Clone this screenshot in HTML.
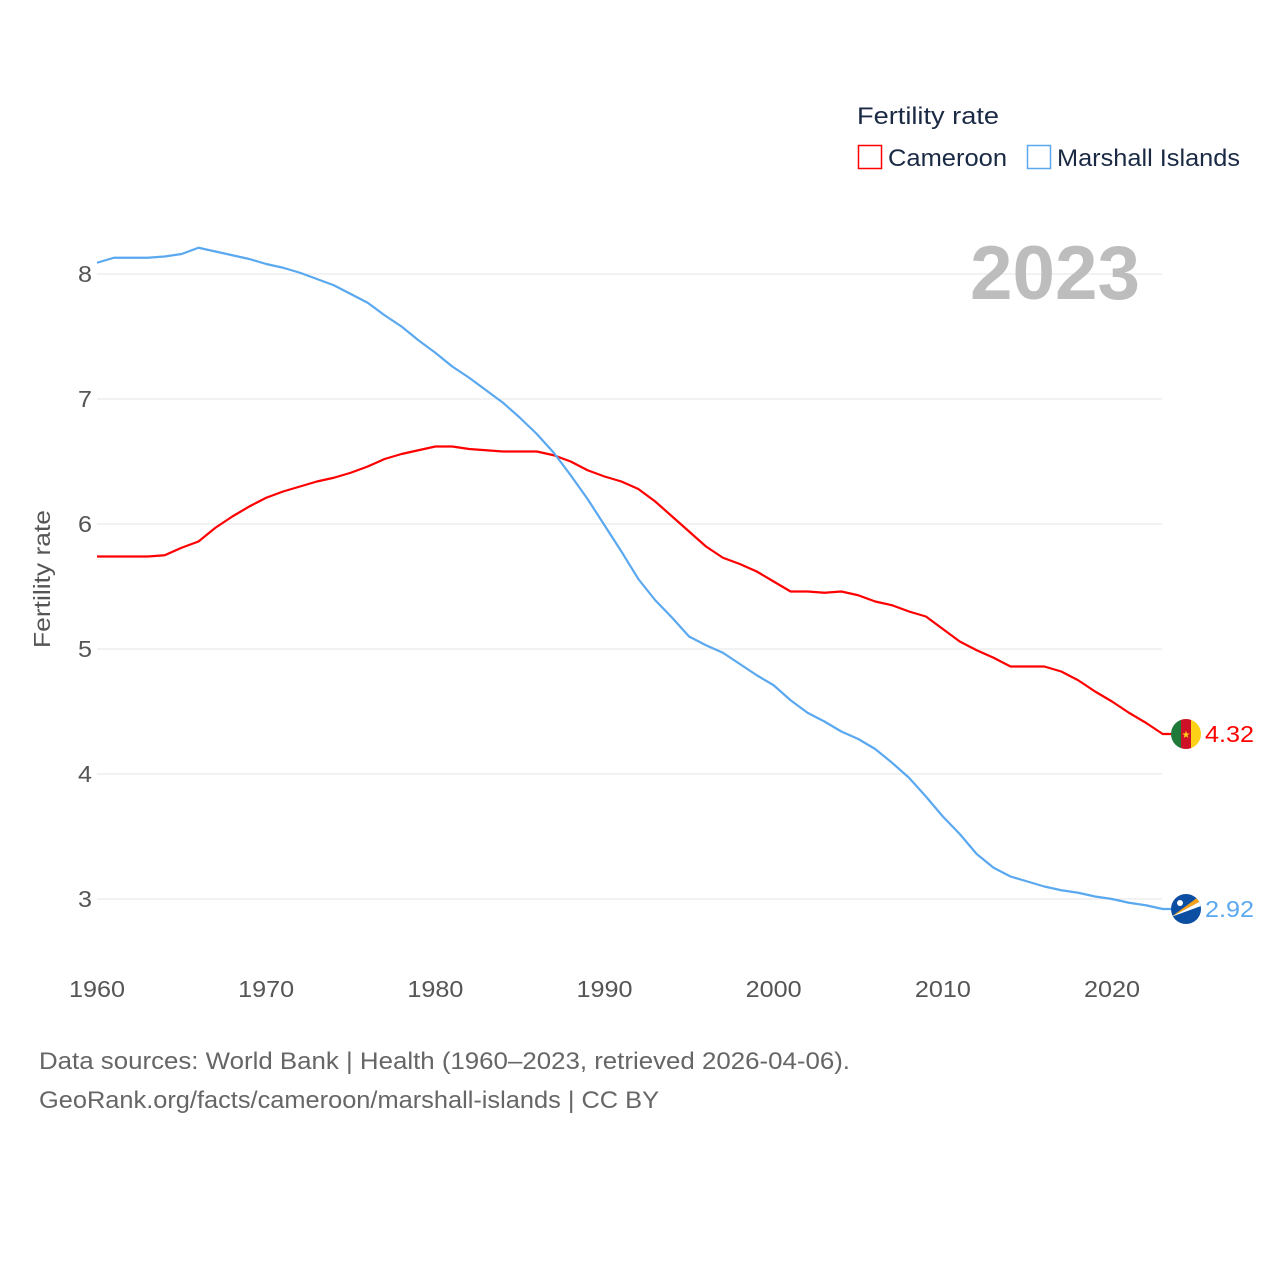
<!DOCTYPE html>
<html><head><meta charset="utf-8">
<style>
html,body{margin:0;padding:0;background:#fff;}
svg{display:block;font-family:"Liberation Sans",sans-serif;}
</style></head>
<body>
<svg id="chart" width="1280" height="1280" viewBox="0 0 1280 1280"></svg>
<script>
const years = [];
for (let y = 1960; y <= 2023; y++) years.push(y);
const cameroon = [5.74,5.74,5.74,5.74,5.75,5.81,5.86,5.97,6.06,6.14,6.21,6.26,6.30,6.34,6.37,6.41,6.46,6.52,6.56,6.59,6.62,6.62,6.60,6.59,6.58,6.58,6.58,6.55,6.50,6.43,6.38,6.34,6.28,6.18,6.06,5.94,5.82,5.73,5.68,5.62,5.54,5.46,5.46,5.45,5.46,5.43,5.38,5.35,5.30,5.26,5.16,5.06,4.99,4.93,4.86,4.86,4.86,4.82,4.75,4.66,4.58,4.49,4.41,4.32];
const marshall = [8.09,8.13,8.13,8.13,8.14,8.16,8.21,8.18,8.15,8.12,8.08,8.05,8.01,7.96,7.91,7.84,7.77,7.67,7.58,7.47,7.37,7.26,7.17,7.07,6.97,6.85,6.72,6.57,6.39,6.20,5.99,5.78,5.56,5.39,5.25,5.10,5.03,4.97,4.88,4.79,4.71,4.59,4.49,4.42,4.34,4.28,4.20,4.09,3.97,3.82,3.66,3.52,3.36,3.25,3.18,3.14,3.10,3.07,3.05,3.02,3.00,2.97,2.95,2.92];
const yTicks = [3,4,5,6,7,8];
const xTicks = [1960,1970,1980,1990,2000,2010,2020];
const endLabels = ["4.32","2.92"];

const NS = "http://www.w3.org/2000/svg";
const svg = document.getElementById("chart");
const xs = y => 97 + (y - 1960) * (1112 - 97) / 60;
const ys = v => 899 - (v - 3) * 125;
function el(tag, attrs, parent) {
  const e = document.createElementNS(NS, tag);
  for (const k in attrs) e.setAttribute(k, attrs[k]);
  (parent || svg).appendChild(e);
  return e;
}
function txt(s, attrs, parent) { const t = el("text", attrs, parent); t.textContent = s; return t; }

yTicks.forEach(v => {
  const g = el("line", {x1: 97, x2: 1162, y1: ys(v), y2: ys(v), stroke: "#e6e6e6", "stroke-width": 1});
  
  
  const t = txt(String(v), {x: 92, y: ys(v) + 8, "text-anchor": "end", "font-size": 23, fill: "#555", textLength: 14, lengthAdjust: "spacingAndGlyphs"});
  
  
});
xTicks.forEach(v => {
  const t = txt(String(v), {x: xs(v), y: 997, "text-anchor": "middle", "font-size": 23, fill: "#555", textLength: 56, lengthAdjust: "spacingAndGlyphs"});
  
  
});
const yt = txt("Fertility rate", {x: 0, y: 0, transform: "translate(50,579) rotate(-90)", "text-anchor": "middle", "font-size": 23, fill: "#555", textLength: 138, lengthAdjust: "spacingAndGlyphs"});



const yr = txt("2023", {x: 1140, y: 299, "text-anchor": "end", "font-size": 76, "font-weight": "bold", fill: "#bdbdbd", textLength: 170, lengthAdjust: "spacingAndGlyphs"});



function line(data, color, name) {
  const d = data.map((v, i) => (i ? "L" : "M") + xs(years[i]).toFixed(2) + "," + ys(v).toFixed(2)).join("") + "H1172";
  const p = el("path", {d: d, fill: "none", stroke: color, "stroke-width": 2.2, "stroke-linejoin": "round"});
  
  
}
line(cameroon, "#ff0000", "cameroon-line");
line(marshall, "#5aa8f0", "marshall-islands-line");

const cx = 1186;
const cy1 = ys(cameroon[cameroon.length - 1]);
const cy2 = ys(marshall[marshall.length - 1]);
const f1 = el("g", {});


el("defs", {}, f1).innerHTML = '<clipPath id="c1"><circle cx="' + cx + '" cy="' + cy1 + '" r="15"/></clipPath><clipPath id="c2"><circle cx="' + cx + '" cy="' + cy2 + '" r="15"/></clipPath>';
const g1 = el("g", {"clip-path": "url(#c1)"}, f1);
el("rect", {x: cx - 15, y: cy1 - 15, width: 10, height: 30, fill: "#1f7a3a"}, g1);
el("rect", {x: cx - 5, y: cy1 - 15, width: 10, height: 30, fill: "#ce1126"}, g1);
el("rect", {x: cx + 5, y: cy1 - 15, width: 10, height: 30, fill: "#fcd116"}, g1);
txt("★", {x: cx, y: cy1 + 4, "text-anchor": "middle", "font-size": 10, fill: "#fcd116"}, g1);
const l1 = txt(endLabels[0], {x: 1205, y: cy1 + 8, "font-size": 23, fill: "#ff0000", textLength: 49, lengthAdjust: "spacingAndGlyphs"});



const f2 = el("g", {"clip-path": "url(#c2)"});


el("rect", {x: cx - 15, y: cy2 - 15, width: 30, height: 30, fill: "#0b4ea2"}, f2);
el("polygon", {points: (cx-15)+","+(cy2+8)+" "+(cx+15)+","+(cy2-14)+" "+(cx+15)+","+(cy2-8), fill: "#f7a11a"}, f2);
el("polygon", {points: (cx-15)+","+(cy2+8)+" "+(cx+15)+","+(cy2-8)+" "+(cx+15)+","+(cy2-3), fill: "#fff"}, f2);
el("circle", {cx: cx - 6, cy: cy2 - 6, r: 3, fill: "#fff"}, f2);
const l2 = txt(endLabels[1], {x: 1205, y: cy2 + 8, "font-size": 23, fill: "#5aa8f0", textLength: 49, lengthAdjust: "spacingAndGlyphs"});



const lt = txt("Fertility rate", {x: 857, y: 124, "font-size": 24, fill: "#1a2a44", textLength: 142, lengthAdjust: "spacingAndGlyphs"});


const lg1 = el("g", {});


el("rect", {x: 858.5, y: 145.5, width: 23, height: 23, fill: "none", stroke: "#ff0000", "stroke-width": 1.5}, lg1);
txt("Cameroon", {x: 888, y: 166, "font-size": 24, fill: "#1a2a44", textLength: 119, lengthAdjust: "spacingAndGlyphs"}, lg1);
const lg2 = el("g", {});


el("rect", {x: 1027.5, y: 145.5, width: 23, height: 23, fill: "none", stroke: "#5aa8f0", "stroke-width": 1.5}, lg2);
txt("Marshall Islands", {x: 1057, y: 166, "font-size": 24, fill: "#1a2a44", textLength: 183, lengthAdjust: "spacingAndGlyphs"}, lg2);

const s1 = txt("Data sources: World Bank | Health (1960–2023, retrieved 2026-04-06).", {x: 39, y: 1069, "font-size": 24, fill: "#666", textLength: 811, lengthAdjust: "spacingAndGlyphs"});


const s2 = txt("GeoRank.org/facts/cameroon/marshall-islands | CC BY", {x: 39, y: 1108, "font-size": 24, fill: "#666", textLength: 620, lengthAdjust: "spacingAndGlyphs"});


</script>
</body></html>
